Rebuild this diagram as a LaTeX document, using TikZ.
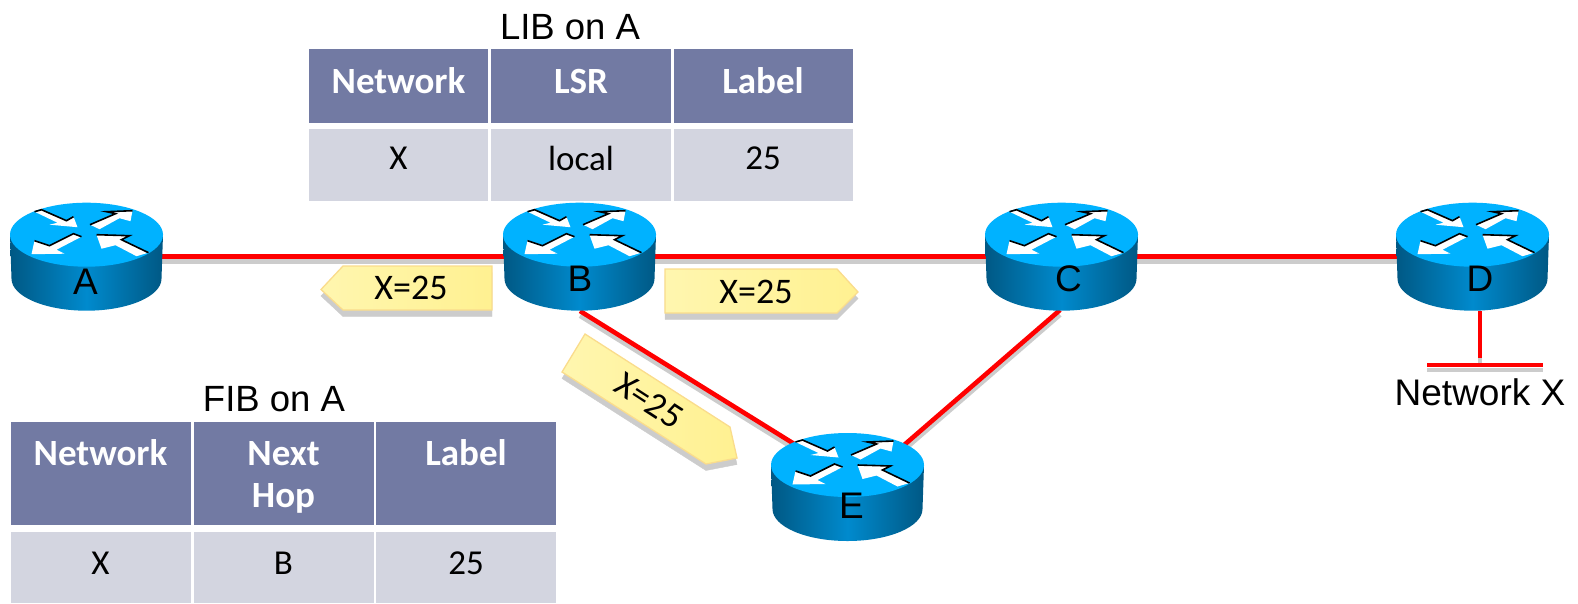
\documentclass[tikz,border=0pt]{standalone}
\usepackage{fontspec}
\setmainfont{Carlito}
\newfontfamily\arialfont{Liberation Sans}
\usepackage{tikz}
\definecolor{routertop}{RGB}{0,178,255}
\definecolor{routerdark}{RGB}{0,88,132}
\definecolor{routermid}{RGB}{0,138,205}
\definecolor{headblue}{RGB}{114,122,163}
\definecolor{rowgray}{RGB}{211,213,224}
\definecolor{tagedge}{RGB}{250,220,140}
\definecolor{tagpale}{RGB}{255,246,175}
\definecolor{tagdeep}{RGB}{255,241,145}
\definecolor{shadegray}{RGB}{204,204,204}
\tikzset{
	routericon/.pic={
		\path[left color=routerdark,right color=routerdark,middle color=routermid] (-76.5,-22) -- (-75,22) arc [start angle=180,end angle=360,x radius=75pt,y radius=32pt] -- (76.5,-22) -- cycle;
		\fill[routertop] (0,-22) ellipse [x radius=76.5pt,y radius=32pt];
		% the four arrows on the lid
		\fill[white] (-52,-45) -- (-45,-47) -- (-20,-36) -- (-13,-40) -- (-9,-29.5) -- (-37,-32) -- (-29,-34) -- cycle;
		\fill[white] (3.5,-32) -- (13,-27.5) -- (33,-38.5) -- (44,-35.5) -- (46,-46) -- (20,-45) -- (29,-43) -- cycle;
		\fill[white] (-5,-20) -- (-13,-23) -- (-37,-11) -- (-52,-16) -- (-55,-2.5) -- (-22,-3) -- (-30,-7) -- cycle;
		\fill[white] (62,-4) -- (50,-0.5) -- (29,-11.5) -- (15,-8) -- (10,-22) -- (43,-21) -- (35,-17) -- cycle;
		\draw[black,line width=1.6pt] (-52,-45) -- (-45,-47) -- (-20,-36) -- (-13,-40);
		\draw[black,line width=1.6pt] (3.5,-32) -- (29,-43) -- (20,-45) -- (46,-46);
		\draw[black,line width=1.6pt] (-5,-20) -- (-13,-23) -- (-37,-11) -- (-52,-16);
		\draw[black,line width=1.6pt] (62,-4) -- (35,-17) -- (43,-21) -- (10,-22);
	},
	routerbox/.style={minimum width=153pt,minimum height=108pt,inner sep=0pt},
	routerlabel/.style={font=\arialfont\fontsize{37}{37}\selectfont,inner sep=0pt},
	titletext/.style={font=\arialfont\fontsize{36.5}{40}\selectfont,inner sep=0pt},
	headcell/.style={fill=headblue,text=white,font=\bfseries\fontsize{37}{42}\selectfont,inner sep=0pt,align=center},
	rowcell/.style={fill=rowgray,text=black,font=\fontsize{35}{41}\selectfont,inner sep=0pt,align=center},
	link/.style={draw=red,line width=4.6pt,preaction={draw=shadegray,line width=4.6pt,transform canvas={yshift=-4.8pt}}},
	tagbody/.style={draw=tagedge,line width=1.3pt,left color=tagpale,right color=tagdeep,preaction={fill=shadegray,draw=shadegray,transform canvas={yshift=-6.5pt}}},
	tagtext/.style={font=\fontsize{36}{36}\selectfont,inner sep=0pt},
}
\begin{document}
\begin{tikzpicture}[x=1pt,y=-1pt]
	\useasboundingbox (0,0) rectangle (1578,603);
	% routers sit on their centres, links run under them
	\node[routerbox] (A) at (86.5,256.7) {};
	\node[routerbox] (B) at (579.5,256.7) {};
	\node[routerbox] (C) at (1061.5,256.7) {};
	\node[routerbox] (D) at (1472.5,256.7) {};
	\node[routerbox] (E) at (847.5,487) {};
	\coordinate (Bdown) at (580,311);
	\coordinate (Cdown) at (1060,310);
	\coordinate (Ein) at (847.5,477);
	\coordinate (Eout) at (847.5,494);
	\coordinate (Ddown) at (1480,311);
	\coordinate (Dbus) at (1480,358);
	\coordinate (busleft) at (1427,365);
	\coordinate (busright) at (1543,365);
	\draw[link] (A.center) -- (B.center);
	\draw[link] (B.center) -- (C.center);
	\draw[link] (C.center) -- (D.center);
	\draw[link] (Bdown) -- (Ein);
	\draw[link] (Cdown) -- (Eout);
	\draw[link] (Ddown) -- (Dbus);
	\draw[link] (busleft) -- (busright);
	\path (A.center) pic {routericon};
	\path (B.center) pic {routericon};
	\path (C.center) pic {routericon};
	\path (D.center) pic {routericon};
	\path (E.center) pic {routericon};
	\node[routerlabel] (Atext) at (85.5,282) {A};
	\node[routerlabel] (Btext) at (580,279) {B};
	\node[routerlabel] (Ctext) at (1068.5,279) {C};
	\node[routerlabel] (Dtext) at (1480,279) {D};
	\node[routerlabel] (Etext) at (851.5,506) {E};
	\node[routerlabel] (netx) at (1480,392) {Network X};
	% label tags
	\draw[tagbody] (321,289.5) -- (343,266) -- (492,266) -- (492,310) -- (343,310) -- cycle;
	\draw[tagbody] (665,269) -- (837,269) -- (858,292) -- (837,313) -- (665,313) -- cycle;
	\draw[tagbody] (585,334) -- (730,427) -- (737,458) -- (706,464) -- (562,372) -- cycle;
	\node[tagtext] (tagleft) at (411,288) {X=25};
	\node[tagtext] (tagright) at (756,292) {X=25};
	\node[tagtext,rotate=-33] (tagdiag) at (649,401) {X=25};
	% LIB table
	\node[titletext] (libtitle) at (570,27) {LIB on A};
	\node[headcell,minimum width=179pt,minimum height=74pt] (lib11) at (398.5,86) {};
	\node[headcell,minimum width=180pt,minimum height=74pt] (lib12) at (581,86) {};
	\node[headcell,minimum width=179pt,minimum height=74pt] (lib13) at (763,86) {};
	\node[rowcell,minimum width=179pt,minimum height=72pt] (lib21) at (398.5,165) {};
	\node[rowcell,minimum width=180pt,minimum height=72pt] (lib22) at (581,165) {};
	\node[rowcell,minimum width=179pt,minimum height=72pt] (lib23) at (763,165) {};
	\node[headcell,fill=none] at (398.5,81) {Network};
	\node[headcell,fill=none] at (581,81) {LSR};
	\node[headcell,fill=none] at (763,81) {Label};
	\node[rowcell,fill=none] at (398.5,158) {X};
	\node[rowcell,fill=none] at (581,158) {local};
	\node[rowcell,fill=none] at (763,158) {25};
	% FIB table
	\node[titletext] (fibtitle) at (274,399) {FIB on A};
	\node[headcell,minimum width=180pt,minimum height=103pt] (fib11) at (100.5,473.5) {};
	\node[headcell,minimum width=180pt,minimum height=103pt] (fib12) at (283.5,473.5) {};
	\node[headcell,minimum width=180pt,minimum height=103pt] (fib13) at (466,473.5) {};
	\node[rowcell,minimum width=180pt,minimum height=71pt] (fib21) at (100.5,567.5) {};
	\node[rowcell,minimum width=180pt,minimum height=71pt] (fib22) at (283.5,567.5) {};
	\node[rowcell,minimum width=180pt,minimum height=71pt] (fib23) at (466,567.5) {};
	\node[headcell,fill=none] at (100.5,453) {Network};
	\node[headcell,fill=none] at (283.5,477) {Next\\Hop};
	\node[headcell,fill=none] at (466,453) {Label};
	\node[rowcell,fill=none] at (100.5,563) {X};
	\node[rowcell,fill=none] at (283.5,563) {B};
	\node[rowcell,fill=none] at (466,563) {25};
\end{tikzpicture}
\end{document}
